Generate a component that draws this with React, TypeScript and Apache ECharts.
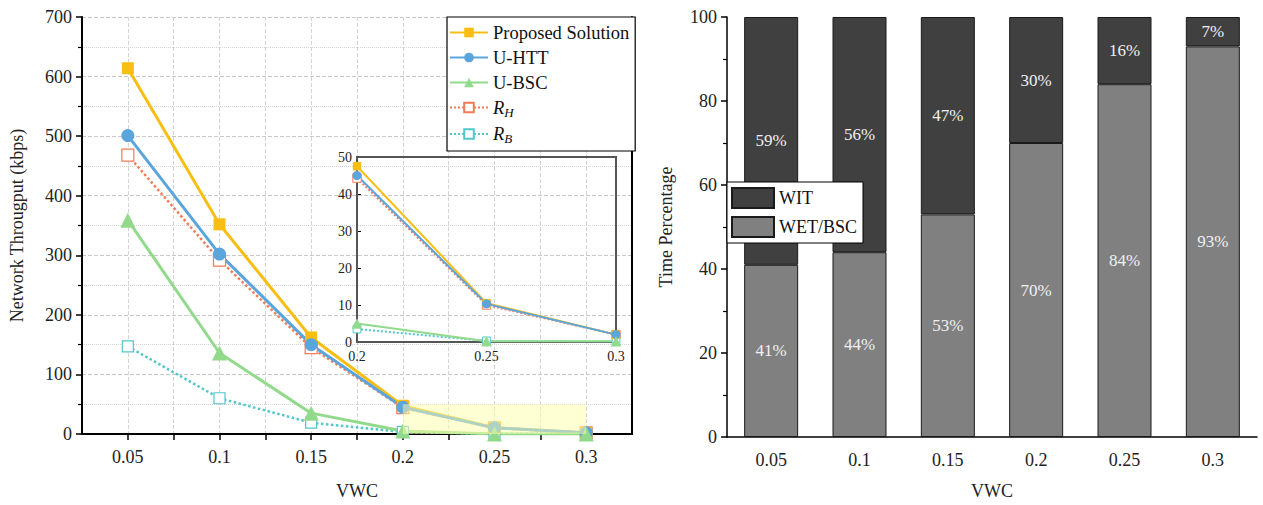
import React, { useEffect, useRef } from "react";
import * as echarts from "echarts";

const vwc = [0.05, 0.1, 0.15, 0.2, 0.25, 0.3];
const proposed = [614, 352, 162, 47.5, 10.5, 2];
const uHtt = [501, 302, 150, 45, 10.3, 2];
const uBsc = [359, 136, 35, 5, 0.2, 0.2];
const rH = [468, 292, 145, 44.3, 10, 2];
const rB = [147, 60, 19, 3.5, 0.3, 0.2];

const barCats = ["0.05", "0.1", "0.15", "0.2", "0.25", "0.3"];
const wetBsc = [41, 44, 53, 70, 84, 93];
const wit = [59, 56, 47, 30, 16, 7];

const FONT = "Liberation Serif";
const C_PROP = "#F9BE14";
const C_HTT = "#5BA5DD";
const C_BSC = "#92DA8B";
const C_RH = "#F47B55";
const C_RB = "#52C6CA";

function pairs(vals: number[], from = 0) {
  return vals.slice(from).map((v, i) => [vwc[i + from], v]);
}

function fmtX(v: number) {
  const k = v / 0.05;
  if (Math.abs(k - Math.round(k)) > 1e-6) return "";
  return String(Number(v.toFixed(3)));
}

export default function App() {
  const ref = useRef<HTMLDivElement>(null);
  useEffect(() => {
    const chart = echarts.init(ref.current!, undefined, { renderer: "svg" });
    const lineDefs = [
      { name: "R_H", vals: rH, color: C_RH, symbol: "rect", dotted: true, size: 12, hollow: true },
      { name: "R_B", vals: rB, color: C_RB, symbol: "rect", dotted: true, size: 11, hollow: true },
      { name: "Proposed Solution", vals: proposed, color: C_PROP, symbol: "rect", dotted: false, size: 12, hollow: false },
      { name: "U-HTT", vals: uHtt, color: C_HTT, symbol: "circle", dotted: false, size: 13, hollow: false },
      { name: "U-BSC", vals: uBsc, color: C_BSC, symbol: "triangle", dotted: false, size: 15, hollow: false },
    ];
    const mainSeries = lineDefs.map((d) => ({
      type: "line",
      name: d.name,
      xAxisIndex: 0,
      yAxisIndex: 0,
      data: pairs(d.vals),
      symbol: d.symbol,
      symbolSize: d.size,
      z: 2,
      lineStyle: { color: d.color, width: d.dotted ? 2.5 : 3, type: d.dotted ? "dotted" : "solid" },
      itemStyle: d.hollow
        ? { color: "#fff", borderColor: d.color, borderWidth: 1.2 }
        : { color: d.color, borderColor: d.color, borderWidth: 0 },
    }));
    const insetSeries = lineDefs.map((d) => ({
      type: "line",
      name: d.name,
      xAxisIndex: 1,
      yAxisIndex: 1,
      data: pairs(d.vals, 3),
      symbol: d.symbol,
      symbolSize: d.size * 0.7,
      z: 6,
      lineStyle: { color: d.color, width: 2, type: d.dotted ? "dotted" : "solid" },
      itemStyle: d.hollow
        ? { color: "#fff", borderColor: d.color, borderWidth: 1 }
        : { color: d.color, borderColor: d.color, borderWidth: 0 },
    }));
    const highlight = {
      type: "line",
      name: "highlight",
      xAxisIndex: 0,
      yAxisIndex: 0,
      data: [],
      z: 5,
      markArea: {
        z: 5,
        silent: true,
        itemStyle: { color: "rgba(255,255,170,0.5)" },
        data: [[{ coord: [vwc[3], 0] }, { coord: [vwc[5], 50] }]],
      },
    };
    const axisLabelStyle = { fontFamily: FONT, fontSize: 18, color: "#222" };
    const option: any = {
      animation: false,
      textStyle: { fontFamily: FONT },
      grid: [
        { left: 82, top: 17, width: 550, height: 420 },
        { left: 357, top: 157, width: 259, height: 185, show: true, borderColor: "#555", borderWidth: 2, backgroundColor: "transparent", z: 5 },
        { left: 727, top: 17, width: 530, height: 426 },
      ],
      legend: [
        {
          data: ["Proposed Solution", "U-HTT", "U-BSC", "R_H", "R_B"],
          orient: "vertical",
          left: 447,
          top: 17,
          width: 185,
          padding: [6, 6, 6, 2],
          itemWidth: 38,
          itemHeight: 12,
          itemGap: 6,
          backgroundColor: "#fff",
          borderColor: "#000",
          borderWidth: 1.2,
          formatter: (n: string) => (n === "R_H" ? "{i|R}{s|H}" : n === "R_B" ? "{i|R}{s|B}" : n),
          textStyle: {
            fontFamily: FONT,
            fontSize: 18.5,
            color: "#111",
            lineHeight: 18,
            rich: {
              i: { fontFamily: FONT, fontSize: 18.5, fontStyle: "italic", color: "#111" },
              s: { fontFamily: FONT, fontSize: 13, fontStyle: "italic", color: "#111", padding: [9, 0, 0, 0] },
            },
          },
        },
        {
          data: ["WIT", "WET/BSC"],
          orient: "vertical",
          left: 727,
          top: 182,
          padding: [5, 6, 5, 4],
          itemWidth: 42,
          itemHeight: 20,
          itemGap: 7,
          icon: "rect",
          backgroundColor: "#fff",
          borderColor: "#000",
          borderWidth: 1,
          textStyle: { fontFamily: FONT, fontSize: 18, color: "#111" },
        },
      ],
      xAxis: [
        {
          type: "value",
          gridIndex: 0,
          min: 0.025,
          max: 0.325,
          interval: 0.025,
          name: "VWC",
          nameLocation: "middle",
          nameGap: 48,
          nameTextStyle: { fontFamily: FONT, fontSize: 18, color: "#222" },
          axisLine: { lineStyle: { color: "#000", width: 2 } },
          axisTick: { length: 6, lineStyle: { color: "#000", width: 1.5 } },
          axisLabel: { ...axisLabelStyle, margin: 14, formatter: fmtX, showMinLabel: false, showMaxLabel: false },
          splitLine: { show: true, lineStyle: { color: "#d4d4d4", type: "dashed", width: 1 } },
        },
        {
          type: "value",
          gridIndex: 1,
          min: 0.2,
          max: 0.3,
          interval: 0.05,
          axisLine: { lineStyle: { color: "#000", width: 1.5 } },
          axisTick: { inside: true, length: 4, lineStyle: { color: "#000" } },
          axisLabel: { fontFamily: FONT, fontSize: 14, color: "#222", margin: 7, formatter: (v: number) => String(Number(v.toFixed(3))) },
          splitLine: { show: false },
        },
        {
          type: "category",
          gridIndex: 2,
          data: barCats,
          name: "VWC",
          nameLocation: "middle",
          nameGap: 45,
          nameTextStyle: { fontFamily: FONT, fontSize: 18, color: "#222" },
          axisLine: { lineStyle: { color: "#000", width: 1.5 } },
          axisTick: { alignWithLabel: true, length: 7, lineStyle: { color: "#000", width: 1.5 } },
          axisLabel: { ...axisLabelStyle, margin: 14 },
        },
        {
          type: "category",
          gridIndex: 2,
          data: barCats,
          position: "bottom",
          axisLine: { show: false },
          axisTick: { length: 4, lineStyle: { color: "#000", width: 1.2 } },
          axisLabel: { show: false },
        },
      ],
      yAxis: [
        {
          type: "value",
          gridIndex: 0,
          min: 0,
          max: 700,
          interval: 100,
          name: "Network Througput (kbps)",
          nameLocation: "middle",
          nameGap: 56,
          nameTextStyle: { fontFamily: FONT, fontSize: 18, color: "#222" },
          axisLine: { show: true, lineStyle: { color: "#000", width: 2 } },
          axisTick: { show: true, length: 6, lineStyle: { color: "#000", width: 1.5 } },
          minorTick: { show: true, splitNumber: 2, length: 4, lineStyle: { color: "#000", width: 1.2 } },
          axisLabel: { ...axisLabelStyle, margin: 10 },
          splitLine: { show: true, lineStyle: { color: "#c8c8c8", type: "dashed", width: 1 } },
          minorSplitLine: { show: true, lineStyle: { color: "#d4d4d4", type: "dotted", width: 1 } },
        },
        {
          type: "value",
          gridIndex: 1,
          min: 0,
          max: 50,
          interval: 10,
          axisLine: { show: true, lineStyle: { color: "#000", width: 1.5 } },
          axisTick: { show: true, inside: true, length: 4, lineStyle: { color: "#000" } },
          axisLabel: { fontFamily: FONT, fontSize: 14, color: "#222", margin: 5 },
          splitLine: { show: false },
        },
        {
          type: "value",
          gridIndex: 2,
          min: 0,
          max: 100,
          interval: 20,
          name: "Time Percentage",
          nameLocation: "middle",
          nameGap: 52,
          nameTextStyle: { fontFamily: FONT, fontSize: 18, color: "#222" },
          axisLine: { show: true, lineStyle: { color: "#000", width: 1.5 } },
          axisTick: { show: true, length: 6, lineStyle: { color: "#000", width: 1.5 } },
          minorTick: { show: true, splitNumber: 2, length: 4, lineStyle: { color: "#000", width: 1.2 } },
          axisLabel: { ...axisLabelStyle, margin: 10 },
          splitLine: { show: false },
        },
        {
          type: "value",
          gridIndex: 0,
          min: 0,
          max: 700,
          position: "right",
          axisLine: { show: true, lineStyle: { color: "#000", width: 2 } },
          axisTick: { show: false },
          axisLabel: { show: false },
          splitLine: { show: false },
        },
      ],
      series: [
        ...mainSeries,
        highlight,
        ...insetSeries,
        {
          type: "bar",
          name: "WET/BSC",
          xAxisIndex: 2,
          yAxisIndex: 2,
          stack: "t",
          barWidth: 54,
          data: wetBsc,
          itemStyle: { color: "#808080", borderColor: "#1a1a1a", borderWidth: 1 },
          label: { show: true, position: "inside", formatter: "{c}%", color: "#f0f0f0", fontFamily: FONT, fontSize: 17 },
        },
        {
          type: "bar",
          name: "WIT",
          xAxisIndex: 2,
          yAxisIndex: 2,
          stack: "t",
          barWidth: 54,
          data: wit,
          itemStyle: { color: "#404040", borderColor: "#1a1a1a", borderWidth: 1 },
          label: { show: true, position: "inside", formatter: "{c}%", color: "#f0f0f0", fontFamily: FONT, fontSize: 17 },
        },
      ],
    };
    chart.setOption(option);
    return () => chart.dispose();
  }, []);
  return <div ref={ref} style={{ position: "fixed", left: 0, top: 0, width: 1263, height: 505, background: "#fff" }} />;
}
